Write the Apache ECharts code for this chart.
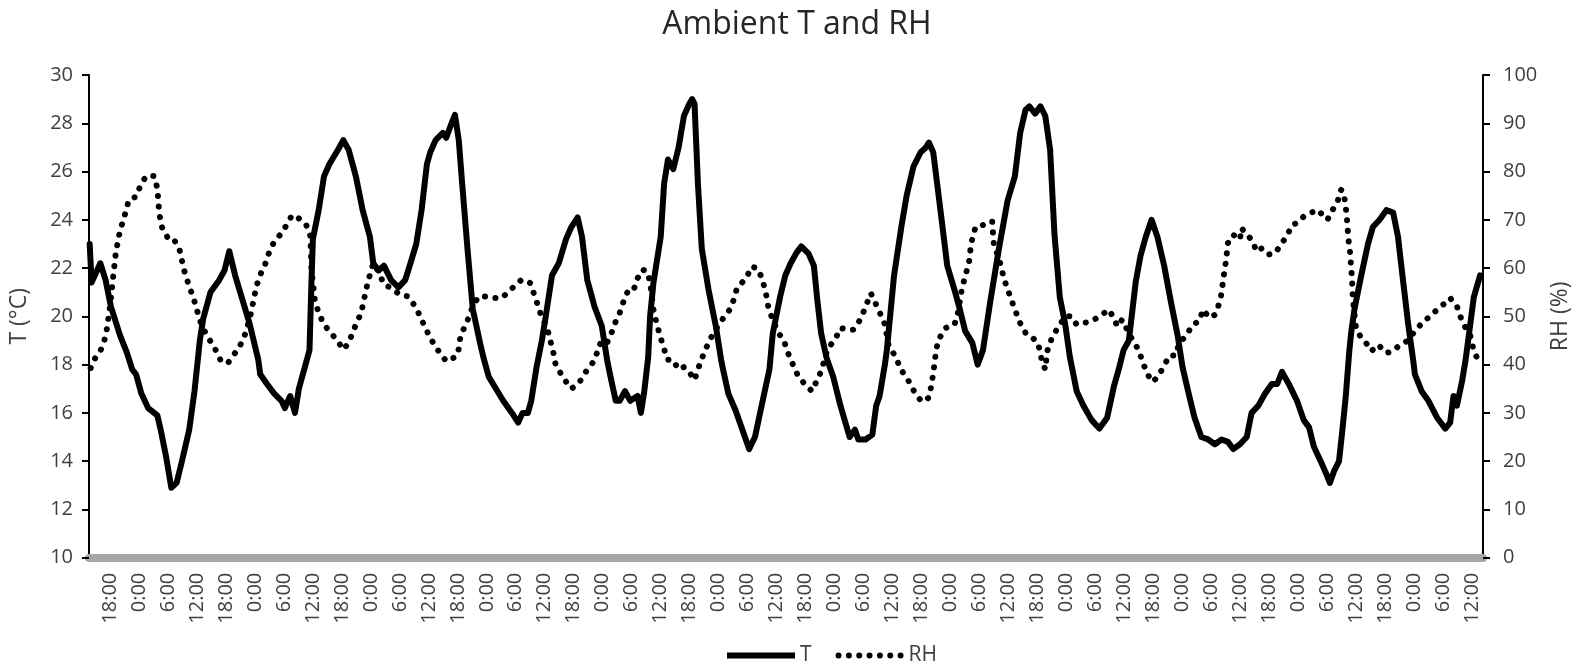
<!DOCTYPE html>
<html>
<head>
<meta charset="utf-8">
<title>Ambient T and RH</title>
<script src="https://cdn.jsdelivr.net/npm/echarts@6/dist/echarts.min.js"></script>
<style>
  html, body { margin: 0; padding: 0; background: #fff; }
  #chart { width: 1594px; height: 669px; }
</style>
</head>
<body>
<div id="chart"></div>
<script>
// time is in hours counted from midnight of the first day
const xStart = 13.66
const xEnd = 302.2

const tickHours = [18, 24, 30, 36, 42, 48, 54, 60, 66, 72, 78, 84, 90, 96, 102, 108,
  114, 120, 126, 132, 138, 144, 150, 156, 162, 168, 174, 180, 186, 192, 198, 204,
  210, 216, 222, 228, 234, 240, 246, 252, 258, 264, 270, 276, 282, 288, 294, 300]
const tickLabels = ['18:00', '0:00', '6:00', '12:00', '18:00', '0:00', '6:00', '12:00',
  '18:00', '0:00', '6:00', '12:00', '18:00', '0:00', '6:00', '12:00',
  '18:00', '0:00', '6:00', '12:00', '18:00', '0:00', '6:00', '12:00',
  '18:00', '0:00', '6:00', '12:00', '18:00', '0:00', '6:00', '12:00',
  '18:00', '0:00', '6:00', '12:00', '18:00', '0:00', '6:00', '12:00',
  '18:00', '0:00', '6:00', '12:00', '18:00', '0:00', '6:00', '12:00']

// [hour, °C]
const tempPoints = [
  [13.8, 23.0], [14.2, 21.4], [16.0, 22.2], [17.1, 21.5], [18.2, 20.4], [20.1, 19.2], [21.5, 18.5], [22.6, 17.8],
  [23.4, 17.6], [24.5, 16.8], [25.9, 16.2], [27.8, 15.9], [28.5, 15.3], [29.6, 14.2], [30.7, 12.9], [31.8, 13.1],
  [32.9, 14.0], [34.4, 15.3], [35.5, 16.9], [36.6, 19.0], [37.3, 19.9], [38.8, 21.0], [40.6, 21.5], [41.7, 21.9],
  [42.7, 22.7], [43.9, 21.7], [45.4, 20.7], [46.9, 19.7], [48.7, 18.2], [49.1, 17.6], [50.5, 17.2], [52.0, 16.8],
  [53.5, 16.5], [54.2, 16.2], [55.3, 16.7], [56.3, 16.0], [57.1, 17.0], [58.2, 17.8], [59.3, 18.6], [59.7, 21.4],
  [60.0, 23.2], [61.2, 24.4], [62.3, 25.8], [63.4, 26.3], [65.2, 26.9], [66.3, 27.3], [67.4, 26.9], [68.9, 25.8],
  [70.3, 24.4], [71.8, 23.3], [72.5, 22.2], [73.6, 21.9], [74.7, 22.1], [76.2, 21.5], [77.7, 21.2], [79.1, 21.5],
  [80.2, 22.2], [81.4, 23.0], [82.5, 24.4], [83.6, 26.3], [84.3, 26.8], [85.4, 27.3], [86.9, 27.6], [87.6, 27.4],
  [88.7, 28.0], [89.4, 28.35], [90.2, 27.3], [90.9, 25.5], [92.0, 22.8], [93.1, 20.3], [94.6, 18.9], [95.3, 18.3],
  [96.4, 17.5], [97.9, 17.0], [99.4, 16.5], [101.2, 16.0], [102.5, 15.6], [103.4, 16.0], [104.5, 16.0], [105.2, 16.5],
  [106.3, 17.9], [107.4, 19.0], [108.2, 20.0], [109.5, 21.7], [110.9, 22.2], [112.4, 23.2], [113.5, 23.7], [114.8, 24.1],
  [115.7, 23.3], [116.8, 21.5], [118.3, 20.4], [119.8, 19.6], [120.9, 18.2], [121.6, 17.5], [122.7, 16.5], [123.5, 16.5],
  [124.6, 16.9], [125.7, 16.5], [127.2, 16.7], [127.9, 16.0], [128.6, 16.9], [129.4, 18.3], [129.8, 20.0], [130.5, 21.4],
  [132.0, 23.3], [132.7, 25.5], [133.5, 26.5], [134.6, 26.1], [135.7, 27.0], [136.8, 28.3], [137.9, 28.8], [138.5, 29.0],
  [139.0, 28.8], [139.7, 25.5], [140.5, 22.8], [141.9, 21.1], [143.4, 19.6], [144.5, 18.2], [144.9, 17.8], [146.0, 16.8],
  [147.5, 16.1], [148.9, 15.3], [150.3, 14.5], [151.5, 15.0], [153.0, 16.4], [154.5, 17.8], [155.2, 19.3], [156.7, 20.8],
  [157.8, 21.7], [158.9, 22.2], [160.0, 22.6], [161.1, 22.9], [162.6, 22.6], [163.7, 22.1], [164.4, 20.7], [165.2, 19.3],
  [166.3, 18.3], [167.7, 17.5], [169.2, 16.3], [171.1, 15.0], [172.2, 15.3], [172.9, 14.9], [174.4, 14.9], [175.8, 15.1],
  [176.6, 16.3], [177.3, 16.7], [178.4, 18.0], [178.8, 18.6], [180.3, 21.7], [181.8, 23.7], [182.9, 25.0], [184.3, 26.2],
  [185.8, 26.8], [186.9, 27.0], [187.5, 27.2], [188.4, 26.8], [189.9, 24.4], [191.3, 22.1], [192.8, 21.1], [193.9, 20.3],
  [195.0, 19.4], [196.5, 18.9], [197.6, 18.0], [198.7, 18.6], [200.2, 20.6], [202.0, 22.8], [203.8, 24.8], [205.3, 25.8],
  [206.4, 27.6], [207.5, 28.55], [208.3, 28.7], [209.5, 28.4], [210.6, 28.7], [211.6, 28.3], [212.6, 26.9], [213.5, 23.4],
  [214.6, 20.8], [215.7, 19.7], [216.7, 18.3], [218.1, 16.9], [219.5, 16.3], [221.2, 15.7], [222.8, 15.35], [224.4, 15.8],
  [225.8, 17.1], [226.8, 17.8], [227.8, 18.6], [228.9, 19.0], [230.3, 21.4], [231.3, 22.5], [232.4, 23.3], [233.6, 24.0],
  [234.8, 23.3], [236.2, 22.1], [237.6, 20.6], [239.0, 19.2], [240.0, 17.9], [241.4, 16.7], [242.5, 15.8], [243.9, 15.0],
  [245.3, 14.9], [246.7, 14.7], [248.1, 14.9], [249.4, 14.8], [250.5, 14.5], [251.9, 14.7], [253.3, 15.0], [254.3, 16.0],
  [255.7, 16.3], [257.1, 16.8], [258.5, 17.2], [259.6, 17.2], [260.6, 17.7], [262.0, 17.2], [263.7, 16.5], [265.1, 15.7],
  [266.2, 15.4], [267.2, 14.6], [268.6, 14.0], [269.7, 13.5], [270.5, 13.1], [271.4, 13.6], [272.4, 14.0], [273.1, 15.3],
  [273.8, 16.7], [274.5, 18.5], [274.9, 19.3], [275.6, 20.3], [277.0, 21.7], [278.4, 23.0], [279.4, 23.7], [280.8, 24.0],
  [282.2, 24.4], [283.6, 24.3], [284.6, 23.3], [285.7, 21.4], [286.7, 19.7], [287.8, 18.1], [288.1, 17.6], [289.5, 16.9],
  [290.9, 16.5], [292.7, 15.8], [294.4, 15.35], [295.4, 15.6], [296.1, 16.7], [296.8, 16.3], [297.9, 17.35], [298.6, 18.2],
  [300.3, 20.8], [301.6, 21.7]
]

// [hour, %]
const rhPoints = [
  [14.0, 39.3], [14.7, 41.0], [16.0, 42.8], [16.8, 44.8], [17.4, 47.6], [18.1, 52.8], [18.6, 57.6], [19.2, 63.1],
  [20.1, 67.9], [20.8, 70.0], [21.9, 74.1], [23.4, 74.8], [24.5, 77.6], [25.6, 79.1], [27.1, 79.1], [27.8, 76.6],
  [28.2, 71.4], [28.7, 68.6], [30.0, 66.2], [31.1, 66.2], [32.4, 63.8], [33.3, 59.7], [34.4, 56.2], [35.2, 54.1],
  [35.9, 51.7], [36.8, 48.6], [38.1, 45.9], [39.5, 43.8], [41.0, 40.7], [42.4, 40.3], [43.9, 42.4], [45.0, 44.1],
  [46.1, 46.6], [47.2, 50.7], [48.3, 56.2], [49.1, 58.6], [50.2, 61.0], [50.9, 63.1], [52.0, 65.5], [53.5, 67.2],
  [54.6, 69.0], [55.7, 71.0], [57.1, 70.3], [58.6, 69.0], [59.5, 66.6], [59.7, 59.7], [60.4, 53.4], [61.2, 50.7],
  [62.3, 48.3], [63.7, 46.6], [65.2, 44.8], [66.3, 43.1], [67.4, 44.5], [68.9, 48.3], [70.0, 50.7], [71.1, 55.9],
  [71.8, 58.6], [72.5, 61.0], [73.6, 59.3], [74.7, 56.6], [76.2, 55.9], [78.0, 54.5], [79.8, 54.1], [81.4, 51.7],
  [82.5, 49.3], [84.3, 45.5], [85.8, 43.1], [87.6, 40.7], [89.1, 41.4], [90.0, 42.1], [90.6, 46.2], [91.7, 48.3],
  [93.1, 52.1], [94.3, 54.1], [96.1, 54.1], [97.6, 53.8], [99.1, 53.8], [100.9, 55.5], [103.2, 57.6], [105.0, 56.9],
  [106.2, 53.4], [107.3, 50.0], [108.4, 47.9], [109.1, 45.2], [109.8, 42.4], [110.2, 40.2], [111.7, 37.4], [113.5, 35.0],
  [115.0, 36.1], [116.5, 38.5], [118.3, 40.9], [119.4, 44.3], [120.5, 43.8], [121.6, 45.9], [122.4, 48.3], [123.5, 50.7],
  [124.2, 52.8], [125.3, 55.5], [126.4, 55.5], [127.2, 57.9], [128.3, 59.7], [129.4, 59.0], [130.0, 55.5], [130.5, 51.4],
  [131.2, 48.3], [132.3, 44.5], [133.4, 41.0], [134.5, 41.0], [135.7, 39.0], [136.8, 39.5], [137.9, 38.5], [139.0, 36.8],
  [140.1, 40.2], [141.2, 43.0], [142.3, 45.4], [143.8, 47.9], [145.2, 50.0], [146.3, 51.4], [147.1, 53.4], [147.8, 55.9],
  [149.7, 57.9], [150.8, 60.3], [151.9, 60.0], [153.0, 57.9], [153.9, 54.1], [154.3, 51.7], [155.2, 49.3], [156.3, 46.6],
  [157.4, 45.2], [158.5, 42.0], [159.6, 39.5], [160.5, 37.5], [161.8, 36.0], [163.3, 34.5], [165.2, 38.6], [166.6, 43.4],
  [168.1, 45.2], [169.2, 47.6], [170.7, 47.2], [171.8, 47.2], [172.9, 48.6], [174.0, 51.0], [175.5, 54.8], [176.6, 52.4],
  [177.7, 50.0], [178.4, 48.3], [179.2, 43.8], [180.6, 41.7], [181.7, 39.0], [183.2, 36.8], [184.7, 34.0], [185.8, 32.6],
  [186.5, 32.3], [187.6, 33.3], [188.4, 38.1], [189.0, 43.0], [189.5, 45.2], [191.0, 47.6], [192.8, 48.3], [193.5, 50.7],
  [194.3, 55.5], [195.0, 58.3], [195.8, 61.0], [196.1, 63.8], [196.5, 66.2], [197.2, 68.6], [199.1, 69.0], [200.6, 69.7],
  [200.8, 66.9], [201.0, 64.5], [202.0, 62.1], [203.1, 57.6], [204.2, 54.5], [205.3, 51.4], [206.4, 48.6], [207.5, 46.6],
  [208.6, 45.9], [210.1, 44.5], [210.9, 40.7], [211.6, 39.0], [212.0, 42.8], [213.1, 45.9], [214.2, 47.6], [215.7, 50.0],
  [217.0, 50.0], [218.1, 48.3], [219.5, 48.6], [221.2, 49.0], [223.3, 50.3], [224.7, 51.4], [225.8, 49.7], [226.5, 47.9],
  [227.5, 49.3], [229.2, 45.9], [230.3, 44.1], [231.0, 42.8], [231.7, 40.7], [232.7, 38.1], [233.8, 36.4], [234.8, 37.4],
  [235.9, 39.2], [237.3, 41.9], [238.6, 41.9], [239.3, 44.5], [240.7, 45.9], [242.1, 48.3], [243.5, 49.0], [244.2, 51.4],
  [245.6, 49.7], [246.7, 50.3], [247.4, 52.1], [248.1, 54.8], [248.4, 57.6], [248.8, 60.0], [249.1, 62.4], [249.4, 65.2],
  [250.5, 66.9], [251.9, 65.9], [252.2, 68.3], [253.3, 66.9], [254.3, 65.9], [255.4, 63.4], [256.4, 64.1], [257.8, 62.8],
  [259.2, 63.1], [260.3, 64.8], [261.6, 66.6], [262.7, 69.0], [263.7, 69.3], [265.1, 70.7], [266.5, 71.4], [267.9, 72.1],
  [269.0, 71.0], [270.0, 70.0], [271.1, 72.1], [272.1, 73.8], [272.8, 76.2], [273.3, 75.9], [273.7, 73.4], [274.0, 70.7],
  [274.2, 67.9], [274.4, 65.5], [274.7, 63.1], [274.9, 60.3], [275.1, 57.6], [275.2, 54.8], [275.4, 52.4], [275.9, 47.6],
  [277.0, 45.5], [278.0, 44.5], [279.1, 42.8], [280.5, 44.1], [282.2, 42.4], [283.6, 42.8], [285.0, 44.1], [286.4, 44.8],
  [288.1, 46.9], [289.9, 49.0], [291.3, 50.0], [292.7, 51.4], [294.4, 52.8], [295.4, 53.8], [296.1, 52.8], [296.8, 52.1],
  [297.5, 50.0], [298.6, 47.6], [299.6, 45.9], [300.3, 42.8], [301.4, 40.5]
]

const textColor = '#404040'
const fontFamily = "'Open Sans', 'Noto Sans', sans-serif"

// legend glyphs: a solid bar and a row of seven round dots
const solidIcon = 'path://M0 0H68V6H0Z'
const dotsIcon = 'path://M0 3a3 3 0 1 0 6 0a3 3 0 1 0 -6 0Z' +
  'M10.4 3a3 3 0 1 0 6 0a3 3 0 1 0 -6 0Z' +
  'M20.8 3a3 3 0 1 0 6 0a3 3 0 1 0 -6 0Z' +
  'M31.2 3a3 3 0 1 0 6 0a3 3 0 1 0 -6 0Z' +
  'M41.6 3a3 3 0 1 0 6 0a3 3 0 1 0 -6 0Z' +
  'M52 3a3 3 0 1 0 6 0a3 3 0 1 0 -6 0Z' +
  'M62.4 3a3 3 0 1 0 6 0a3 3 0 1 0 -6 0Z'

const chart = echarts.init(document.getElementById('chart'))

const yAxisBase = {
  type: 'value',
  nameLocation: 'middle',
  nameRotate: 90,
  nameTextStyle: { fontSize: 23, color: textColor, fontFamily },
  axisLine: { show: true, lineStyle: { color: '#000', width: 2 } },
  axisTick: { show: true, length: 7, lineStyle: { color: '#000', width: 2 } },
  splitLine: { show: false },
}

chart.setOption({
  animation: false,
  backgroundColor: '#fff',
  title: {
    text: 'Ambient T and RH',
    left: 'center',
    top: 4,
    textStyle: { fontSize: 32, fontWeight: 'normal', color: '#262626', fontFamily },
  },
  legend: {
    left: 722,
    top: 640,
    itemWidth: 68,
    itemHeight: 14,
    itemGap: 24,
    textStyle: { fontSize: 21, color: textColor, fontFamily },
    data: [
      { name: 'T', icon: solidIcon },
      { name: 'RH', icon: dotsIcon },
    ],
  },
  grid: { left: 86, right: 111, top: 75, bottom: 111.3 },
  xAxis: {
    type: 'value',
    min: xStart,
    max: xEnd,
    offset: 4,
    axisLine: { show: true, lineStyle: { color: '#a6a6a6', width: 8 } },
    axisTick: { show: false },
    splitLine: { show: false },
    axisLabel: {
      customValues: tickHours,
      rotate: 90,
      margin: 11,
      fontSize: 20,
      color: textColor,
      fontFamily,
      formatter: v => tickLabels[tickHours.indexOf(v)],
    },
  },
  yAxis: [
    {
      ...yAxisBase,
      name: 'T (°C)',
      nameGap: 58,
      min: 10,
      max: 30,
      interval: 2,
      axisLabel: { fontSize: 20, color: textColor, fontFamily, margin: 16 },
    },
    {
      ...yAxisBase,
      name: 'RH (%)',
      nameGap: 66,
      position: 'right',
      min: 0,
      max: 100,
      interval: 10,
      axisLabel: { fontSize: 20, color: textColor, fontFamily, margin: 20 },
    },
  ],
  series: [
    {
      name: 'T',
      type: 'line',
      yAxisIndex: 0,
      data: tempPoints,
      symbol: 'none',
      color: '#000',
      lineStyle: { color: '#000', width: 6, join: 'round', cap: 'round' },
      z: 3,
    },
    {
      name: 'RH',
      type: 'line',
      yAxisIndex: 1,
      data: rhPoints,
      symbol: 'none',
      color: '#000',
      lineStyle: { color: '#000', width: 6, type: [0.1, 10.5], cap: 'round' },
      z: 2,
    },
  ],
})
</script>
</body>
</html>
